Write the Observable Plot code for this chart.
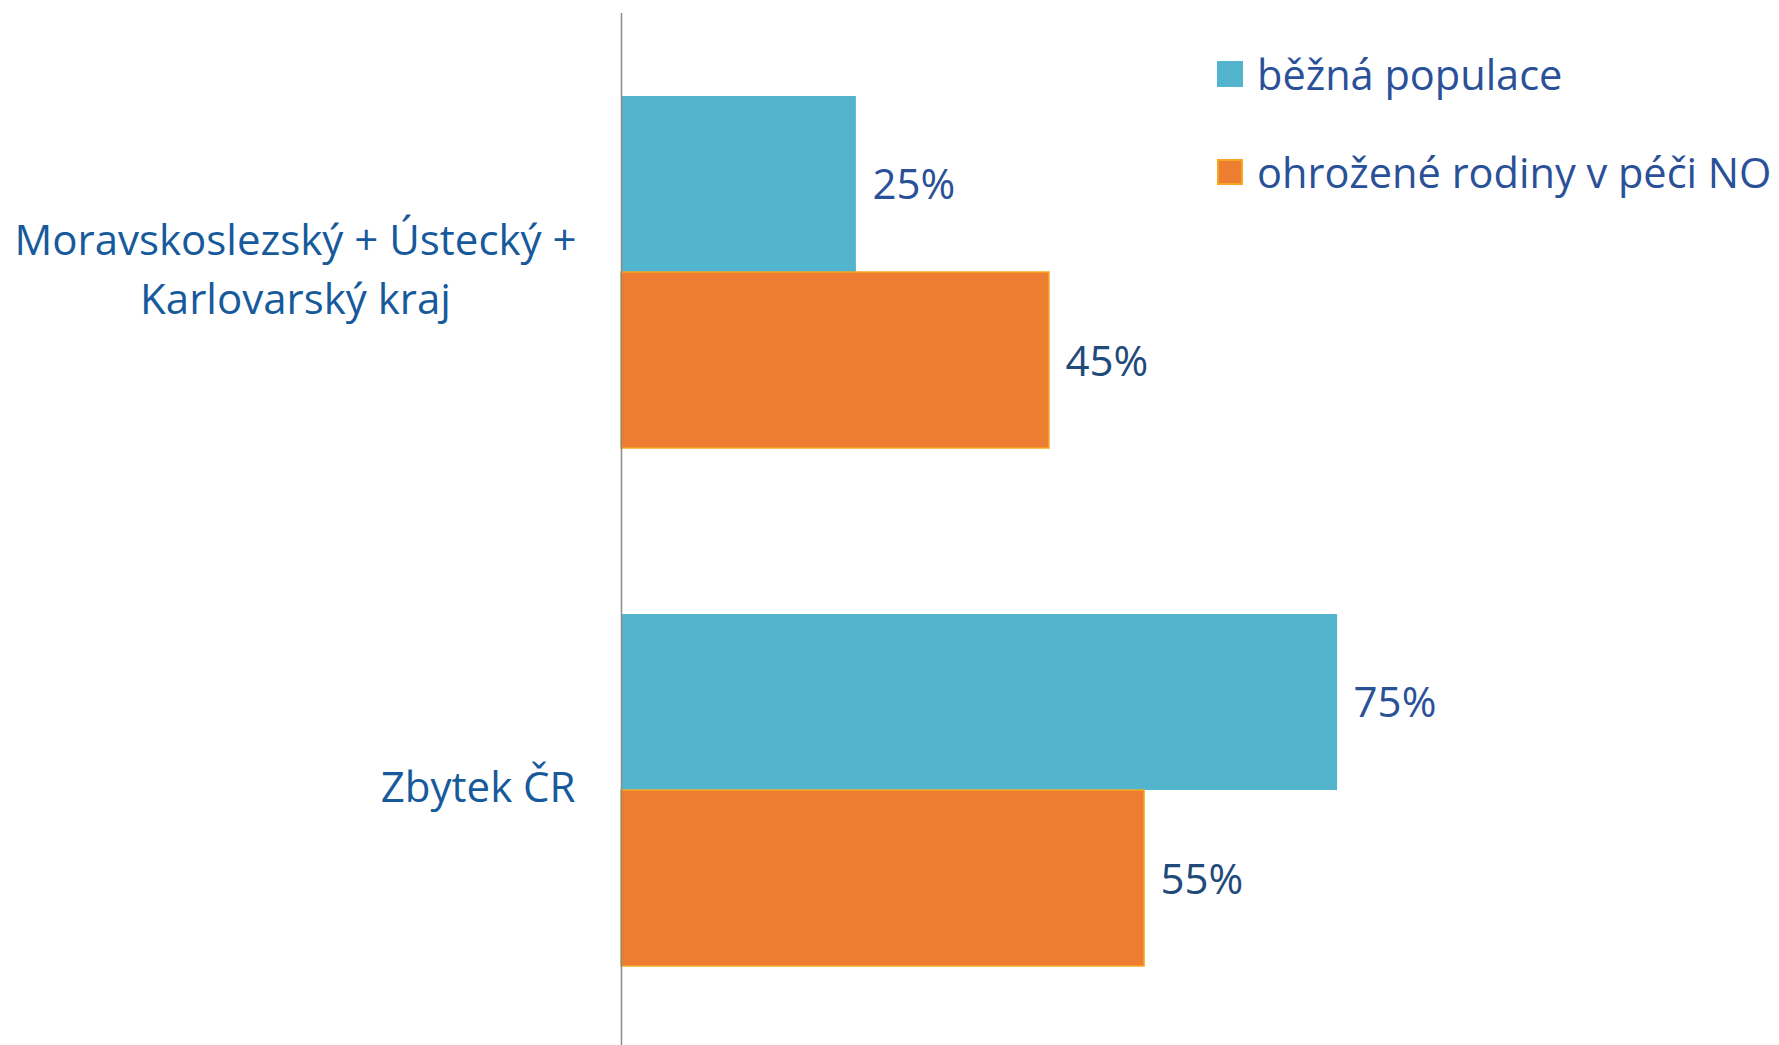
<!DOCTYPE html>
<html>
<head>
<meta charset="utf-8">
<script src="https://cdn.jsdelivr.net/npm/d3@7"></script>
<script src="https://cdn.jsdelivr.net/npm/@observablehq/plot@0.6"></script>
<style>
  html, body { margin: 0; padding: 0; background: #fff; overflow: hidden; }
  #wrap { position: relative; width: 1779px; height: 1045px; }
  #legend { position: absolute; left: 0; top: 0; font-family: "Open Sans", sans-serif; font-size: 41.5px; color: #2A5198; }
  .item { position: absolute; display: flex; align-items: center; white-space: nowrap; }
  .sw { width: 26px; height: 26px; margin-right: 14px; box-sizing: border-box; }
</style>
</head>
<body>
<div id="wrap">
  <div id="chart"></div>
  <div id="legend"></div>
</div>
<script>
const regions = ["Moravskoslezský + Ústecký +\nKarlovarský kraj", "Zbytek ČR"];
const series = ["běžná populace", "ohrožené rodiny v péči NO"];
const bezna = [24.7, 75.3];
const ohrozene = [45, 55];
const colors = ["#53B5CD", "#ED7D31"];

const data = regions.flatMap((r, i) => [
  {region: r, series: series[0], value: bezna[i]},
  {region: r, series: series[1], value: ohrozene[i]}
]);
const d0 = data.filter(d => d.series === series[0]);
const d1 = data.filter(d => d.series === series[1]);
const fmt = d => Math.round(d.value) + "%";

const chart = Plot.plot({
  width: 1779,
  height: 1049,
  marginLeft: 621,
  marginRight: 207,
  marginTop: 12,
  marginBottom: 0,
  style: {fontFamily: "Open Sans", fontSize: "42px", background: "#fff"},
  x: {domain: [0, 100], axis: null},
  y: {domain: series, paddingInner: 0, paddingOuter: 0.469, axis: null},
  fy: {domain: regions, padding: 0, axis: null},
  marks: [
    Plot.barX(d0, {fy: "region", y: "series", x: "value", fill: colors[0]}),
    Plot.barX(d1, {fy: "region", y: "series", x: "value", fill: colors[1], stroke: "#F6A623", strokeWidth: 1.5}),
    Plot.ruleX([0], {stroke: "#8C8C8C", strokeWidth: 1.5}),
    Plot.text(d0, {fy: "region", y: "series", x: "value", text: fmt, textAnchor: "start", dx: 16, dy: 1, fill: "#2A5198", fontSize: 42}),
    Plot.text(d1, {fy: "region", y: "series", x: "value", text: fmt, textAnchor: "start", dx: 16, dy: 2, fill: "#1F4A7A", fontSize: 42}),
    Plot.text([regions[0]], {fy: d => d, text: d => d, frameAnchor: "left", textAnchor: "middle", dx: -326, dy: -7, lineHeight: 1.405, fill: "#175A9C", fontSize: 42}),
    Plot.text([regions[1]], {fy: d => d, text: d => d, frameAnchor: "left", textAnchor: "end", dx: -46, dy: -2, fill: "#175A9C", fontSize: 42})
  ]
});
document.getElementById("chart").appendChild(chart);

const legend = document.getElementById("legend");
const rows = [{top: 46}, {top: 144}];
series.forEach((s, i) => {
  const it = document.createElement("div");
  it.className = "item";
  it.style.left = "1217px";
  it.style.top = rows[i].top + "px";
  it.style.height = "56px";
  const sw = document.createElement("div");
  sw.className = "sw";
  sw.style.background = colors[i];
  if (i === 1) sw.style.border = "2px solid #F6A623";
  const tx = document.createElement("span");
  tx.textContent = s;
  it.appendChild(sw);
  it.appendChild(tx);
  legend.appendChild(it);
});
</script>
</body>
</html>
